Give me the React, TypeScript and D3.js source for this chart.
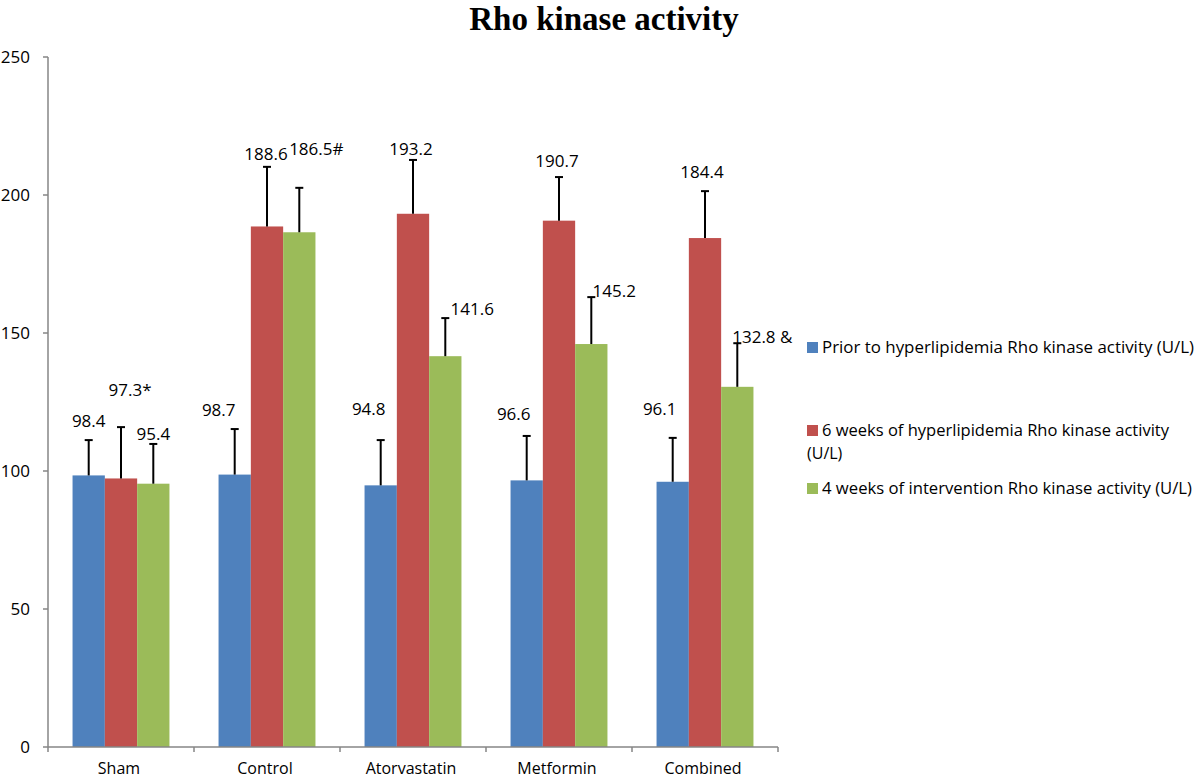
import React from "react";
import * as d3 from "d3";

const categories = ["Sham", "Control", "Atorvastatin", "Metformin", "Combined"];
const seriesNames = [
  "Prior to hyperlipidemia Rho kinase activity (U/L)",
  "6 weeks of hyperlipidemia Rho kinase activity (U/L)",
  "4 weeks of intervention Rho kinase activity (U/L)",
];
const priorValues = [98.4, 98.7, 94.8, 96.6, 96.1];
const sixWeekValues = [97.3, 188.6, 193.2, 190.7, 184.4];
const interventionValues = [95.4, 186.5, 141.6, 146.0, 130.5];
const priorErrors = [12.8, 16.5, 16.4, 16.1, 15.9];
const sixWeekErrors = [18.6, 21.6, 19.5, 15.8, 17.0];
const interventionErrors = [14.4, 16.1, 13.8, 17.0, 15.8];
const priorLabels = ["98.4", "98.7", "94.8", "96.6", "96.1"];
const sixWeekLabels = ["97.3*", "188.6", "193.2", "190.7", "184.4"];
const interventionLabels = ["95.4", "186.5#", "141.6", "145.2", "132.8 &"];
const yTicks = [0, 50, 100, 150, 200, 250];

// label placement (pixels relative to bar center / error-bar top)
const labelDx = [
  [0, 9, 0],
  [-16, -1, 17],
  [-12, -2, 27],
  [-13, -2, 23],
  [-13, -3, 25],
];
const labelDy = [
  [-13, -31, -4],
  [-13, -7, -33],
  [-25, -5, -3],
  [-16, -10, 0],
  [-23, -13, 0],
];

const colors = ["#4F81BD", "#C0504D", "#9BBB59"];

export default function App() {
  const W = 1200, H = 780;
  const left = 48, right = 778, top = 57, bottom = 747;
  const x = d3.scaleBand<string>().domain(categories).range([left, right]);
  const y = d3.scaleLinear().domain([0, 250]).range([bottom, top]);
  const inner = d3
    .scaleBand<number>()
    .domain([0, 1, 2])
    .range([0, x.bandwidth()])
    .paddingInner(0)
    .paddingOuter(0.76);
  const values = [priorValues, sixWeekValues, interventionValues];
  const errors = [priorErrors, sixWeekErrors, interventionErrors];
  const labels = [priorLabels, sixWeekLabels, interventionLabels];
  const font = "'Open Sans', 'Noto Sans', sans-serif";
  const axisColor = "#868686";

  return (
    <svg
      width={W}
      height={H}
      style={{ position: "absolute", left: 0, top: 0, background: "#fff" }}
      fontFamily={font}
    >
      <text
        x={604}
        y={30}
        textAnchor="middle"
        fontFamily="'Liberation Serif', 'Times New Roman', serif"
        fontWeight="bold"
        fontSize={33}
        fill="#000"
      >
        Rho kinase activity
      </text>

      {/* bars */}
      {categories.map((c, ci) =>
        values.map((vals, si) => {
          const bx = (x(c) as number) + (inner(si) as number);
          const bw = inner.bandwidth();
          return (
            <rect
              key={`b-${ci}-${si}`}
              x={bx}
              y={y(vals[ci])}
              width={bw}
              height={bottom - y(vals[ci])}
              fill={colors[si]}
            />
          );
        })
      )}

      {/* error bars */}
      {categories.map((c, ci) =>
        values.map((vals, si) => {
          const cx = (x(c) as number) + (inner(si) as number) + inner.bandwidth() / 2;
          const yt = y(vals[ci] + errors[si][ci]);
          return (
            <g key={`e-${ci}-${si}`} stroke="#000" strokeWidth={2}>
              <line x1={cx} x2={cx} y1={y(vals[ci])} y2={yt} />
              <line x1={cx - 4} x2={cx + 4} y1={yt} y2={yt} />
            </g>
          );
        })
      )}

      {/* labels */}
      {categories.map((c, ci) =>
        values.map((vals, si) => {
          const cx = (x(c) as number) + (inner(si) as number) + inner.bandwidth() / 2;
          const yt = y(vals[ci] + errors[si][ci]);
          return (
            <text
              key={`l-${ci}-${si}`}
              x={cx + labelDx[ci][si]}
              y={yt + labelDy[ci][si]}
              textAnchor="middle"
              fontSize={17}
              fill="#000"
            >
              {labels[si][ci]}
            </text>
          );
        })
      )}

      {/* y axis */}
      <line x1={left} x2={left} y1={top} y2={bottom} stroke={axisColor} strokeWidth={1.5} />
      {yTicks.map((t) => (
        <g key={`yt-${t}`}>
          <line x1={left - 5} x2={left} y1={y(t)} y2={y(t)} stroke={axisColor} strokeWidth={1.5} />
          <text x={30} y={y(t) + 6} textAnchor="end" fontSize={17} fill="#000">
            {t}
          </text>
        </g>
      ))}

      {/* x axis */}
      <line x1={left} x2={right} y1={bottom} y2={bottom} stroke={axisColor} strokeWidth={1.5} />
      {categories.map((c) => (
        <line
          key={`xt-${c}`}
          x1={x(c) as number}
          x2={x(c) as number}
          y1={bottom}
          y2={bottom + 5}
          stroke={axisColor}
          strokeWidth={1.5}
        />
      ))}
      <line x1={right} x2={right} y1={bottom} y2={bottom + 5} stroke={axisColor} strokeWidth={1.5} />
      {categories.map((c) => (
        <text
          key={`xl-${c}`}
          x={(x(c) as number) + x.bandwidth() / 2 - 2}
          y={774}
          textAnchor="middle"
          fontSize={16}
          fill="#000"
        >
          {c}
        </text>
      ))}

      {/* legend */}
      <g fontSize={16} fill="#000">
        <rect x={807} y={342} width={11} height={11} fill={colors[0]} />
        <text x={822} y={353} textLength={372} lengthAdjust="spacingAndGlyphs">
          {seriesNames[0]}
        </text>
        <rect x={807} y={425} width={11} height={11} fill={colors[1]} />
        <text x={822} y={436} textLength={347} lengthAdjust="spacingAndGlyphs">
          6 weeks of hyperlipidemia Rho kinase activity
        </text>
        <text x={807} y={459}>
          (U/L)
        </text>
        <rect x={807} y={483} width={11} height={11} fill={colors[2]} />
        <text x={822} y={494} textLength={370} lengthAdjust="spacingAndGlyphs">
          {seriesNames[2]}
        </text>
      </g>
    </svg>
  );
}
